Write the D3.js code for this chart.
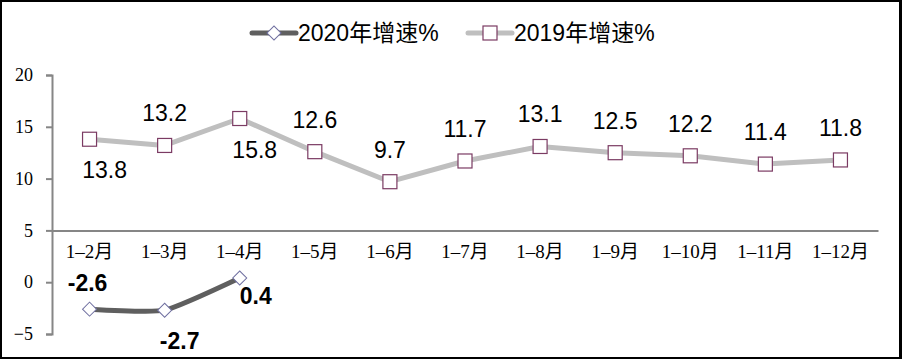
<!DOCTYPE html>
<html>
<head>
<meta charset="utf-8">
<script src="https://cdn.jsdelivr.net/npm/d3@7"></script>
<style>
  body { margin: 0; background: #fff; }
  svg { display: block; }
</style>
</head>
<body>
<svg width="902" height="359"></svg>
<script>
var months = ['1-2月', '1-3月', '1-4月', '1-5月', '1-6月', '1-7月', '1-8月', '1-9月', '1-10月', '1-11月', '1-12月']
var growth2020 = [-2.6, -2.7, 0.4]
var growth2019 = [13.8, 13.2, 15.8, 12.6, 9.7, 11.7, 13.1, 12.5, 12.2, 11.4, 11.8]
var yTicks = [-5, 0, 5, 10, 15, 20]
var place2020 = ['upleft', 'below', 'right']
var place2019 = ['below', 'above', 'below', 'above', 'above', 'above', 'above', 'above', 'above', 'above', 'above']

// label offsets relative to the point
var offs = {
  above:  [0, -24],
  below:  [15, 39],
  upleft: [-2, -18],
  right:  [16, 26]
}

var svg = d3.select('svg')

// frame
svg.append('rect').attr('width', 902).attr('height', 359).attr('fill', '#000')
svg.append('rect').attr('x', 2).attr('y', 2).attr('width', 897).attr('height', 355).attr('fill', '#fff')

var x = d3.scaleBand().domain(months).range([52, 878])
var y = d3.scaleLinear().domain([-5, 20]).range([334, 75])
var cx = function (d, i) { return x(months[i]) + x.bandwidth() / 2 }

// y axis
var yAxis = svg.append('g')
  .attr('transform', 'translate(52,0)')
  .call(d3.axisLeft(y).tickValues(yTicks).tickSize(6).tickPadding(13)
    .tickFormat(function (d) { return d < 0 ? '\u2212' + Math.abs(d) : d }))
yAxis.select('.domain').attr('stroke', '#868686').attr('stroke-width', 2)
yAxis.selectAll('line').attr('stroke', '#868686').attr('stroke-width', 2)
yAxis.selectAll('text')
  .attr('fill', '#000')
  .style('font-family', '"Liberation Serif", "Noto Sans CJK SC"')
  .style('font-size', '18px')

// x axis (crossing at 5)
var xAxis = svg.append('g')
  .attr('transform', 'translate(0,' + y(5) + ')')
  .call(d3.axisBottom(x).tickSize(0).tickPadding(14))
xAxis.select('.domain').attr('stroke', '#868686').attr('stroke-width', 2)
xAxis.selectAll('text')
  .text(function (d) { return d.replace('-', '\u2013') })
  .attr('fill', '#000')
  .style('font-family', '"Liberation Serif", "Noto Sans CJK SC"')
  .style('font-size', '19px')

// 2019 line
var line2019 = d3.line().x(cx).y(function (d) { return y(d) })
svg.append('path')
  .datum(growth2019)
  .attr('d', line2019)
  .attr('fill', 'none')
  .attr('stroke', '#bfbfbf')
  .attr('stroke-width', 5)
  .attr('stroke-linejoin', 'round')

svg.selectAll('.m19')
  .data(growth2019)
  .enter().append('rect')
  .attr('class', 'm19')
  .attr('x', function (d, i) { return cx(d, i) - 7 })
  .attr('y', function (d) { return y(d) - 7 })
  .attr('width', 14)
  .attr('height', 14)
  .attr('fill', '#fff')
  .attr('stroke', '#7b3b63')
  .attr('stroke-width', 1.2)

// 2020 line (smoothed)
var line2020 = d3.line().x(cx).y(function (d) { return y(d) }).curve(d3.curveCardinal.tension(0.5))
svg.append('path')
  .datum(growth2020)
  .attr('d', line2020)
  .attr('fill', 'none')
  .attr('stroke', '#5f5f5f')
  .attr('stroke-width', 5)

var diamond = d3.symbol().type(d3.symbolSquare).size(98)
svg.selectAll('.m20')
  .data(growth2020)
  .enter().append('path')
  .attr('class', 'm20')
  .attr('d', diamond)
  .attr('transform', function (d, i) { return 'translate(' + cx(d, i) + ',' + y(d) + ') rotate(45)' })
  .attr('fill', '#fff')
  .attr('stroke', '#6f6fa0')
  .attr('stroke-width', 1)

// data labels
svg.selectAll('.l19')
  .data(growth2019)
  .enter().append('text')
  .attr('class', 'l19')
  .attr('x', function (d, i) { return cx(d, i) + offs[place2019[i]][0] })
  .attr('y', function (d, i) { return y(d) + offs[place2019[i]][1] })
  .attr('text-anchor', 'middle')
  .style('font-family', '"Liberation Sans", Arial, sans-serif')
  .style('font-size', '23px')
  .text(function (d) { return d.toFixed(1) })

svg.selectAll('.l20')
  .data(growth2020)
  .enter().append('text')
  .attr('class', 'l20')
  .attr('x', function (d, i) { return cx(d, i) + offs[place2020[i]][0] })
  .attr('y', function (d, i) { return y(d) + offs[place2020[i]][1] })
  .attr('text-anchor', 'middle')
  .style('font-family', '"Liberation Sans", Arial, sans-serif')
  .style('font-size', '23px')
  .style('font-weight', 'bold')
  .text(function (d) { return d.toFixed(1) })

// legend
var legend = [
  { name: '2020年增速%', color: '#5f5f5f', x: 252, mark: 'diamond' },
  { name: '2019年增速%', color: '#bfbfbf', x: 468, mark: 'square' }
]
var lg = svg.selectAll('.lg')
  .data(legend)
  .enter().append('g')
  .attr('class', 'lg')
  .attr('transform', function (d) { return 'translate(' + d.x + ',33)' })
lg.append('line')
  .attr('x1', 0).attr('x2', 44)
  .attr('stroke', function (d) { return d.color })
  .attr('stroke-width', 5)
  .attr('stroke-linecap', 'round')
lg.each(function (d) {
  var g = d3.select(this)
  if (d.mark === 'diamond') {
    g.append('path').attr('d', diamond)
      .attr('transform', 'translate(22,0) rotate(45)')
      .attr('fill', '#fff').attr('stroke', '#6f6fa0')
  } else {
    g.append('rect').attr('x', 15).attr('y', -7).attr('width', 14).attr('height', 14)
      .attr('fill', '#fff').attr('stroke', '#7b3b63').attr('stroke-width', 1.2)
  }
})
lg.append('text')
  .attr('x', 46)
  .attr('y', 8)
  .style('font-family', '"Liberation Sans", "Noto Sans CJK SC", sans-serif')
  .style('font-size', '23px')
  .text(function (d) { return d.name })
</script>
</body>
</html>
